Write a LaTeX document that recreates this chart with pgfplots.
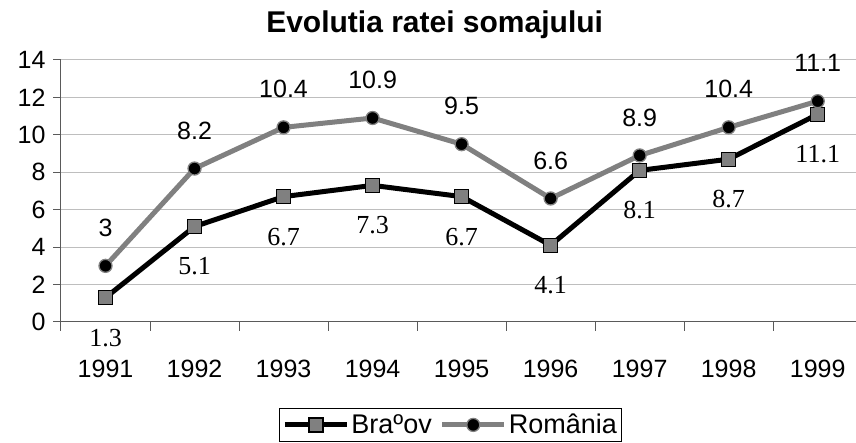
\documentclass[border=0pt]{standalone}
\usepackage{pgfplots}
\pgfplotsset{compat=1.18}
\usepackage{fontspec}
\setmainfont{Liberation Sans}
\newfontfamily\serifnum{Liberation Serif}
\definecolor{lgray}{HTML}{808080}
\definecolor{ggrid}{HTML}{BEBEBE}
\definecolor{axgray}{HTML}{5A5A5A}
\begin{document}
\begin{tikzpicture}
\path[use as bounding box] (-61pt,-121pt) rectangle (795pt,322pt);
\begin{axis}[
  scale only axis,
  width=795pt, height=262pt,
  xmin=1990.5, xmax=1999.43,
  ymin=0, ymax=14,
  clip=false,
  axis x line*=bottom, axis y line*=left,
  axis line style={axgray, line width=1pt, -},
  xtick={1991,...,1999},
  xticklabels={1991,1992,1993,1994,1995,1996,1997,1998,1999},
  minor xtick={1990.5,1991.5,...,1999.5},
  ytick={0,2,...,14},
  tick align=outside,
  major tick length=8pt, minor tick length=9pt,
  major x tick style={draw=none},
  minor x tick style={axgray, line width=1pt},
  major y tick style={axgray, line width=1pt},
  ymajorgrids,
  grid style={ggrid, line width=1pt},
  tick label style={font=\fontsize{25}{28}\selectfont},
  xticklabel style={anchor=center, yshift=-39pt},
  yticklabel style={anchor=east, xshift=-4pt},
  /pgf/number format/assume math mode=true,
  title={\fontsize{30}{34}\selectfont\bfseries Evolutia ratei somajului},
  title style={anchor=base, at={(0.47,1.0)}, yshift=21pt, inner sep=0pt},
  legend columns=2,
  legend style={at={(0.2742,-0.328)}, anchor=north west, draw=black, line width=0.8pt,
    font=\fontsize{27}{30}\selectfont, inner xsep=3pt, inner ysep=4pt,
    /tikz/every even column/.style={column sep=6pt}},
  legend image code/.code={\draw[mark repeat=2,mark phase=2,#1] plot coordinates {(0pt,0pt)(31pt,0pt)(62pt,0pt)};},
]
\addplot[black, line width=5pt, mark=square*, mark size=7pt,
  mark options={fill=lgray, draw=black, line width=1.3pt},
  point meta=explicit symbolic,
  nodes near coords,
  every node near coord/.style={anchor=center, yshift=-40pt, black, font=\fontsize{26}{28}\serifnum}]
coordinates {
 (1991,1.3) [1.3]
 (1992,5.1) [5.1]
 (1993,6.7) [6.7]
 (1994,7.3) [7.3]
 (1995,6.7) [6.7]
 (1996,4.1) [4.1]
 (1997,8.1) [8.1]
 (1998,8.7) [8.7]
 (1999,11.1) [11.1]
};
\addlegendentry{Braºov}
\addplot[lgray, line width=5pt, mark=*, mark size=6.5pt,
  mark options={fill=black, draw=lgray, line width=1.3pt},
  point meta=explicit symbolic,
  nodes near coords,
  every node near coord/.style={anchor=center, yshift=38pt, black, font=\fontsize{25}{28}\selectfont}]
coordinates {
 (1991,3.0) [3]
 (1992,8.2) [8.2]
 (1993,10.4) [10.4]
 (1994,10.9) [10.9]
 (1995,9.5) [9.5]
 (1996,6.6) [6.6]
 (1997,8.9) [8.9]
 (1998,10.4) [10.4]
 (1999,11.8) [11.1]
};
\addlegendentry{România}
\end{axis}
\end{tikzpicture}
\end{document}
